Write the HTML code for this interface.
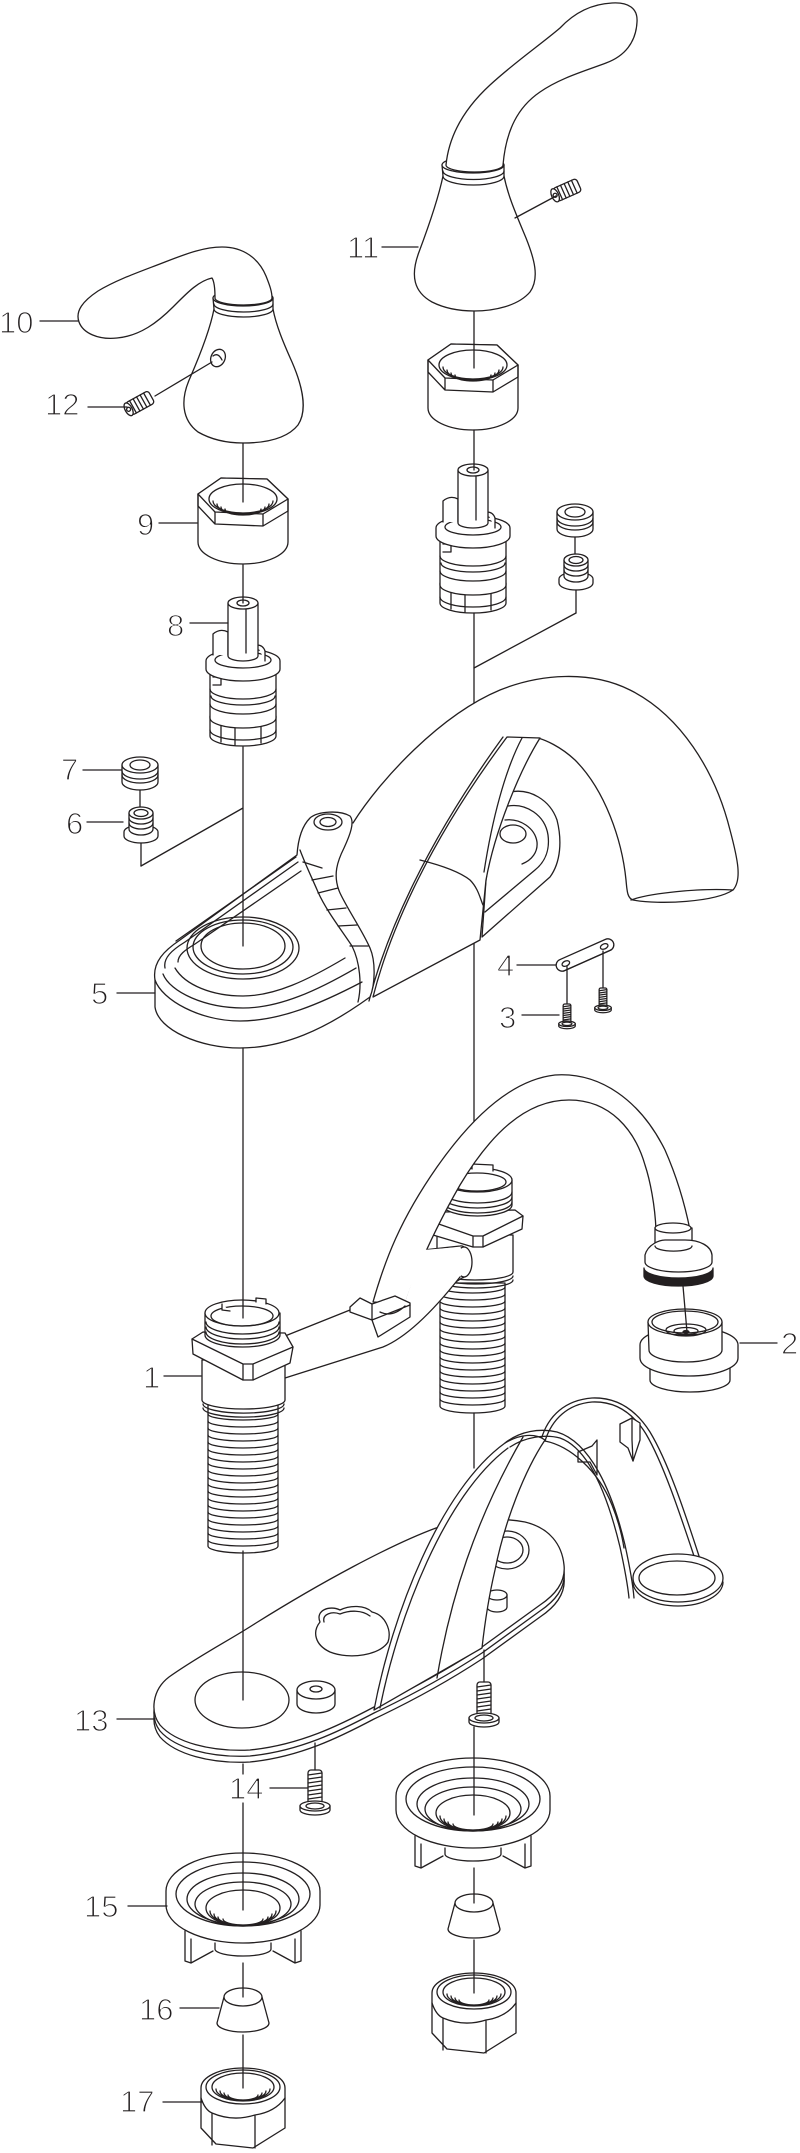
<!DOCTYPE html>
<html><head><meta charset="utf-8"><title>Faucet exploded view</title>
<style>
html,body{margin:0;padding:0;background:#fff;width:800px;height:2153px;overflow:hidden}
svg{display:block}
.t{font-family:"Liberation Sans",Arial,sans-serif;font-size:31px;fill:#231f20;stroke:#fff;stroke-width:1.2}
</style></head><body>
<svg width="800" height="2153" viewBox="0 0 800 2153" xmlns="http://www.w3.org/2000/svg">
<defs>
<g id="nut">
 <path fill="#fff" d="M-45,-8 L-45,40 A45,22 0 0 0 45,40 L45,-3 L24,-23 L-22,-24 Z"/>
 <path fill="#fff" d="M-45,-8 L-22,-24 L24,-23 L45,-3 L20,12 L-28,10 Z"/>
 <path d="M-45,-8 L-45,4 L-28,22 L20,24 L45,9 L45,-3 M-28,10 L-28,22 M20,12 L20,24"/>
 <ellipse cx="0" cy="-3" rx="34" ry="15"/>
 <path d="M-30,-1 A30,12 0 0 0 30,-1 M-26,2 A26,10 0 0 0 26,2 M-22,5 A22,8 0 0 0 22,5 M-18,7 A18,6 0 0 0 18,7"/>
</g>
<g id="cart">
 <path fill="#fff" d="M-33,113 L-33,133 A33,10 0 0 0 33,133 L33,113 Z"/>
 <path d="M-33,127 A33,10 0 0 0 33,127 M-22,121 L-22,139 M-8,123 L-8,142 M18,122 L18,140 M-26,118 L-14,118 L-10,124"/>
 <path fill="#fff" d="M-33,66 L-33,115 A33,10 0 0 0 33,115 L33,66 Z"/>
 <path d="M-33,86 A33,10 0 0 0 33,86 M-32,93 A32,9 0 0 0 32,93 M-33,101 A33,10 0 0 0 33,101 M-30,74 L-22,74 L-22,82 L-30,82"/>
 <path fill="#fff" d="M-37,58 L-37,66 A37,12 0 0 0 37,66 L37,58 A37,12 0 0 0 -37,58 Z"/>
 <ellipse cx="0" cy="57" rx="28" ry="8"/>
 <path fill="#fff" d="M-30,52 L-30,31 Q-23,25 -15,29 L-15,52"/>
 <path fill="#fff" d="M14,42 Q20,42 22,48 L22,58"/>
 <path fill="#fff" d="M-15,0 L-15,53 A15,5 0 0 0 15,53 L15,0 Z"/>
 <ellipse fill="#fff" cx="0" cy="0" rx="15" ry="6"/>
 <ellipse cx="0" cy="0" rx="6" ry="3"/>
 <path d="M3,6 L3,50"/>
</g>
<g id="seals">
 <path fill="#fff" d="M-18,0 L-18,17 A18,8 0 0 0 18,17 L18,0 Z"/>
 <ellipse fill="#fff" cx="0" cy="0" rx="18" ry="8"/>
 <ellipse cx="0" cy="0" rx="10" ry="5"/>
 <path d="M-18,6 A18,8 0 0 0 18,6 M-18,10 A18,8 0 0 0 18,10"/>
 <path d="M0,25 L0,42"/>
 <path fill="#fff" d="M-16,67 L-16,71 A17,7 0 0 0 18,71 L18,67 A17,7 0 0 0 -16,67 Z"/>
 <path fill="#fff" d="M-11,48 L-11,64 A12,6 0 0 0 13,64 L13,48 Z"/>
 <ellipse fill="#fff" cx="1" cy="48" rx="12" ry="6"/>
 <ellipse cx="1" cy="48" rx="7" ry="3.5"/>
 <path d="M-11,53 A12,6 0 0 0 13,53 M-11,58 A12,6 0 0 0 13,58"/>
 <path d="M1,78 L1,101"/>
</g>
<g id="mount">
 <path fill="#fff" stroke="none" d="M-58,40 L-58,70 L-52,72 L-30,60 L30,60 L52,72 L58,70 L58,40 Z"/>
 <path d="M-58,40 L-58,70 L-52,72 L-52,48 M-52,72 L-30,60 M58,40 L58,70 L52,72 L52,48 M52,72 L30,60"/>
 <path d="M-28,52 L-28,58 A28,7 0 0 0 28,58 L28,52"/>
 <path fill="#fff" d="M-77,0 L-77,14 A77,38 0 0 0 77,14 L77,0 A77,38 0 0 0 -77,0 Z"/>
 <ellipse cx="0" cy="3" rx="67" ry="32"/>
 <ellipse cx="0" cy="8" rx="56" ry="26"/>
 <ellipse cx="0" cy="13" rx="48" ry="22"/>
 <ellipse fill="#fff" cx="0" cy="17" rx="37" ry="18"/>
 <path d="M-33,20 A33,14 0 0 0 33,20 M-29,23 A29,11 0 0 0 29,23 M-25,26 A25,8 0 0 0 25,26 M-20,28 A20,6 0 0 0 20,28"/>
</g>
<g id="cone">
 <path fill="#fff" d="M-19,0 L-26,26 A26,9 0 0 0 26,26 L19,0 Z"/>
 <ellipse fill="#fff" cx="0" cy="0" rx="19" ry="9"/>
</g>
<g id="hex">
 <path fill="#fff" d="M-42,18 A42,20 0 0 1 42,18 L42,58 L10,78 L-27,74 L-42,58 Z"/>
 <ellipse cx="0" cy="17" rx="37" ry="17"/>
 <ellipse cx="0" cy="17" rx="31" ry="14"/>
 <path d="M-27,19 A27,11 0 0 0 27,19 M-23,21 A23,9 0 0 0 23,21 M-19,23 A19,7 0 0 0 19,23 M-15,25 A15,5 0 0 0 15,25"/>
 <path d="M-42,28 Q-38,40 -31,43 Q-10,52 12,45 Q32,42 42,28 M-31,43 L-31,75 M12,45 L12,78"/>
</g>
<g id="screw">
 <rect fill="#fff" x="-7" y="0" width="14" height="34" rx="3"/>
 <path d="M-7,5 L7,3 M-7,9 L7,7 M-7,13 L7,11 M-7,17 L7,15 M-7,21 L7,19 M-7,25 L7,23 M-7,29 L7,27"/>
 <path fill="#fff" d="M-15,36 L-15,40 A15,5 0 0 0 15,40 L15,36 Z"/>
 <ellipse fill="#fff" cx="0" cy="36" rx="15" ry="5"/>
 <ellipse cx="0" cy="36" rx="9" ry="3"/>
</g>
<g id="setscrew">
 <rect fill="#fff" x="-13" y="-7" width="26" height="14" rx="3"/>
 <ellipse fill="#fff" cx="-13" cy="0" rx="3.5" ry="7"/>
 <path d="M-8,-7 L-8,7 M-4,-7 L-4,7 M0,-7 L0,7 M4,-7 L4,7 M8,-7 L8,7"/>
 <circle cx="-13" cy="0" r="2"/>
</g>
</defs>

<g fill="none" stroke="#231f20" stroke-width="1.3" stroke-linejoin="round" stroke-linecap="round">

<!-- Handle 11 -->
<path fill="#fff" d="M443,176 C438,200 428,228 419,252 C410,276 414,292 432,302 C446,309 460,311 474,311 C494,311 518,306 530,292 C540,278 534,258 526,238 C516,214 508,196 504,176 Z"/>
<path fill="#fff" d="M442,165 L443,176 A30.5,9 0 0 0 504,176 L504,165 Z"/>
<ellipse fill="#fff" cx="473" cy="165" rx="31" ry="8"/>
<path d="M443,171 A30.5,8.5 0 0 0 504,171"/>
<path fill="#fff" d="M446,165 C449,135 465,108 490,85 C515,62 540,45 560,28 C575,12 592,4 612,3 C628,2 638,8 637,22 C636,42 625,56 606,63 C585,71 560,78 540,92 C518,107 506,130 503,165 A28.5,7 0 0 1 446,165 Z"/>
<use href="#setscrew" transform="translate(567,190) rotate(-24)"/>

<!-- Handle 10 -->
<path fill="#fff" d="M214,309 C210,330 200,355 190,378 C180,400 182,420 198,432 C212,440 228,443 243,443 C262,443 286,440 298,425 C308,410 302,385 292,362 C283,342 276,325 273,309 Z"/>
<path fill="#fff" d="M213,298 L214,309 A29.5,8 0 0 0 273,309 L273,298 Z"/>
<ellipse fill="#fff" cx="243" cy="298" rx="30" ry="8"/>
<path d="M214,304 A29.5,8 0 0 0 273,304"/>
<path fill="#fff" d="M215,298 C215,288 214,281 212,278 C198,281 186,294 173,307 C158,322 140,336 117,338 C98,340 83,333 79,322 C75,311 83,301 98,291 C118,279 142,271 165,262 C188,253 205,247 222,247 C244,247 259,259 266,276 C270,286 272,292 272,298 A28.5,7 0 0 1 215,298 Z"/>
<ellipse cx="218" cy="358" rx="7" ry="9" transform="rotate(25 218 358)"/>
<path d="M213,356 Q218,352 222,360"/>
<use href="#setscrew" transform="translate(140,403) rotate(-29)"/>

<!-- Nuts, cartridges, seals -->
<use href="#nut" transform="translate(473,368)"/>
<use href="#nut" transform="translate(243,502)"/>
<use href="#cart" transform="translate(473,470)"/>
<use href="#cart" transform="translate(243,603)"/>
<use href="#seals" transform="translate(575,512)"/>
<use href="#seals" transform="translate(140,765)"/>

<!-- line behind spout -->
<path d="M474,613 L474,703 M474,942 L474,1126"/>

<!-- Spout tube -->
<path fill="#fff" stroke="none" d="M353,823 C380,780 440,715 500,690 C540,674 590,670 630,690 C680,715 715,770 730,830 C738,860 742,880 733,890 C715,902 660,905 633,900 C627,898 627,890 626,880 C622,840 605,790 575,760 C560,746 545,740 538,738 L507,737 C470,785 440,825 420,860 L345,850 Z"/>
<path d="M353,823 C380,780 440,715 500,690 C540,674 590,670 630,690 C680,715 715,770 730,830 C738,860 742,880 733,890 C715,902 660,905 633,900 C627,898 627,890 626,880 C622,840 605,790 575,760 C560,746 545,740 538,738"/>
<path d="M631,900 C650,893 700,888 733,890"/>

<!-- right valve base seen under spout -->
<path fill="#fff" d="M510,792 C530,788 550,800 557,820 C562,840 561,862 550,877 L482,937 L486,880 C492,840 500,810 510,792 Z"/>
<path d="M508,806 C526,803 545,815 548,835 C550,850 545,862 535,870 L485,912"/>
<path d="M505,820 C520,818 535,828 537,842 C538,852 532,860 522,864"/>
<ellipse cx="513" cy="834" rx="13" ry="9"/>

<!-- Spout front face -->
<path fill="#fff" d="M373,997 C390,930 430,840 507,737 L540,738 C520,770 495,830 486,880 L480,940 Z"/>
<path d="M369,1001 C386,934 426,843 503,737"/>
<path d="M522,738 C505,770 492,820 484,872"/>
<path d="M420,860 C440,865 460,872 470,880 C478,888 480,898 483,905"/>

<!-- Base 5 -->
<path fill="#fff" d="M155,1007 L155,980 C152,962 165,950 180,940 L297,855 C298,840 302,826 310,818 C318,811 340,810 350,816 C355,822 350,835 344,848 C338,860 332,875 340,893 C348,910 362,930 370,948 C376,962 375,985 370,997 L360,1004 C325,1028 285,1048 240,1048 C200,1048 158,1030 155,1007 Z"/>
<path d="M155,980 C162,1000 200,1021 240,1021 C280,1021 320,1004 362,982"/>
<path d="M163,974 C170,992 205,1008 243,1008 C280,1008 318,990 356,968"/>
<path d="M175,968 C185,985 212,996 243,996 C275,996 308,980 345,958"/>
<path d="M165,968 C163,958 172,950 185,942 L298,862"/>
<path d="M178,962 C178,955 185,950 195,944 L301,871"/>
<path d="M176,941 L296,857"/>
<ellipse cx="243" cy="948" rx="56" ry="31"/>
<ellipse cx="243" cy="947" rx="50" ry="27"/>
<ellipse cx="243" cy="946" rx="42" ry="23"/>
<ellipse fill="#fff" cx="328" cy="822" rx="14" ry="8"/>
<ellipse cx="328" cy="822" rx="8" ry="4.5"/>
<path d="M300,850 C306,866 312,878 318,892 C326,910 340,928 352,946 C360,962 362,985 358,1002"/>
<path d="M303,862 L322,868 M312,880 L333,876 M318,893 L338,888 M327,910 L346,908 M338,926 L357,925 M350,946 L368,946"/>

<!-- Part 4 plate and screws 3 -->
<g transform="translate(585,955) rotate(-24)">
 <rect fill="#fff" x="-31" y="-6" width="62" height="12" rx="6"/>
 <path d="M-26,6 L26,6"/>
 <ellipse cx="-21" cy="0" rx="4" ry="2.5"/>
 <ellipse cx="21" cy="0" rx="4" ry="2.5"/>
</g>
<path d="M567,966 L567,1004 M603,951 L603,988"/>
<use href="#screw" transform="translate(567,1004) scale(0.55)" stroke-width="2.3"/>
<use href="#screw" transform="translate(603,988) scale(0.55)" stroke-width="2.3"/>

<!-- Right valve body -->
<path fill="#fff" d="M440,1283 L440,1406 A32.5,7 0 0 0 505,1406 L505,1283 Z"/>
<path d="M440,1287 A32.5,6 0 0 0 505,1287 M440,1294 A32.5,6 0 0 0 505,1294 M440,1301 A32.5,6 0 0 0 505,1301 M440,1308 A32.5,6 0 0 0 505,1308 M440,1315 A32.5,6 0 0 0 505,1315 M440,1322 A32.5,6 0 0 0 505,1322 M440,1329 A32.5,6 0 0 0 505,1329 M440,1336 A32.5,6 0 0 0 505,1336 M440,1343 A32.5,6 0 0 0 505,1343 M440,1350 A32.5,6 0 0 0 505,1350 M440,1357 A32.5,6 0 0 0 505,1357 M440,1364 A32.5,6 0 0 0 505,1364 M440,1371 A32.5,6 0 0 0 505,1371 M440,1378 A32.5,6 0 0 0 505,1378 M440,1385 A32.5,6 0 0 0 505,1385 M440,1392 A32.5,6 0 0 0 505,1392 M440,1399 A32.5,6 0 0 0 505,1399"/>
<path d="M438,1276 A37.5,8 0 0 0 513,1276 M438,1280 A37.5,8 0 0 0 513,1280"/>
<path fill="#fff" d="M437,1235 L437,1272 A38,8 0 0 0 513,1272 L513,1235 Z"/>
<path fill="#fff" d="M433,1222 L445,1212 L515,1210 L523,1216 L522,1229 L483,1247 L473,1247 L433,1235 Z"/>
<path d="M433,1222 L473,1236 L483,1236 L523,1216 M473,1236 L473,1247 M483,1236 L483,1247"/>
<path fill="#fff" d="M443,1180 L443,1205 A34.5,11 0 0 0 512,1205 L512,1180 Z"/>
<ellipse fill="#fff" cx="477" cy="1180" rx="35" ry="12"/>
<ellipse cx="477" cy="1182" rx="29" ry="9"/>
<path d="M443,1192 A34.5,11 0 0 0 512,1192 M443,1197 A34.5,11 0 0 0 512,1197 M443,1202 A34.5,11 0 0 0 512,1202"/>
<path fill="#fff" d="M472,1169 L472,1164 L493,1165 L493,1171"/>
<path fill="#fff" d="M423,1250 L460,1246 A9,16 0 0 1 462,1278 L440,1292 Z"/>
<ellipse fill="#fff" cx="464" cy="1262" rx="8" ry="15"/>

<!-- Hose -->
<path fill="#fff" d="M373,1302 C385,1260 400,1220 437,1167 C470,1120 510,1080 555,1075 C600,1072 640,1100 665,1150 C676,1175 684,1200 690,1230 L656,1230 C655,1205 650,1180 645,1165 C635,1130 610,1100 569,1100 C525,1100 490,1135 460,1185 C440,1220 420,1260 405,1304 Z"/>

<!-- Arm of part 1 -->
<path fill="#fff" stroke="none" d="M285,1336 L352,1310 L405,1302 L423,1250 L460,1247 L470,1262 L460,1277 C440,1305 415,1330 383,1347 L285,1378 Z"/>
<path d="M285,1336 L350,1310 M285,1378 L383,1347 C405,1338 430,1315 460,1277"/>
<path fill="#fff" d="M350,1307 L360,1298 L372,1304 L395,1296 L410,1303 L410,1317 L378,1337 L372,1320 L350,1312 Z"/>
<path d="M372,1304 L372,1320 M372,1320 L410,1305 M380,1312 Q392,1318 405,1306"/>

<!-- Left body 1 -->
<path fill="#fff" d="M208,1405 L208,1546 A35,7 0 0 0 278,1546 L278,1405 Z"/>
<path d="M208,1414 A35,6 0 0 0 278,1414 M208,1421 A35,6 0 0 0 278,1421 M208,1428 A35,6 0 0 0 278,1428 M208,1435 A35,6 0 0 0 278,1435 M208,1442 A35,6 0 0 0 278,1442 M208,1449 A35,6 0 0 0 278,1449 M208,1456 A35,6 0 0 0 278,1456 M208,1463 A35,6 0 0 0 278,1463 M208,1470 A35,6 0 0 0 278,1470 M208,1477 A35,6 0 0 0 278,1477 M208,1484 A35,6 0 0 0 278,1484 M208,1491 A35,6 0 0 0 278,1491 M208,1498 A35,6 0 0 0 278,1498 M208,1505 A35,6 0 0 0 278,1505 M208,1512 A35,6 0 0 0 278,1512 M208,1519 A35,6 0 0 0 278,1519 M208,1526 A35,6 0 0 0 278,1526 M208,1533 A35,6 0 0 0 278,1533 M208,1540 A35,6 0 0 0 278,1540"/>
<path d="M203,1404 A40,9 0 0 0 284,1404 M203,1408 A40,9 0 0 0 284,1408"/>
<path fill="#fff" d="M202,1360 L202,1400 A41.5,9 0 0 0 285,1400 L285,1360 Z"/>
<path fill="#fff" d="M192,1339 L203,1332 L285,1333 L293,1347 L290,1363 L253,1380 L243,1380 L193,1354 Z"/>
<path d="M192,1339 L243,1364 L253,1364 L293,1347 M243,1364 L243,1380 M253,1364 L253,1380"/>
<path fill="#fff" d="M205,1313 L205,1335 A37.5,12 0 0 0 280,1335 L280,1313 Z"/>
<ellipse fill="#fff" cx="242" cy="1313" rx="37" ry="13"/>
<ellipse cx="242" cy="1316" rx="31" ry="10"/>
<path d="M206,1322 A36.5,12 0 0 0 279,1322 M206,1327 A36.5,12 0 0 0 279,1327 M206,1332 A36.5,12 0 0 0 279,1332"/>
<path fill="#fff" d="M256,1302 L256,1298 L266,1299 L266,1304"/>
<path fill="#fff" d="M222,1304 L222,1310 L230,1311"/>

<!-- Hose end fitting -->
<path fill="#fff" d="M655,1228 L655,1250 L692,1250 L692,1228 Z"/>
<ellipse fill="#fff" cx="673" cy="1228" rx="18" ry="5"/>
<path fill="#fff" d="M645,1255 C648,1244 660,1240 665,1240 L685,1240 C700,1240 711,1246 712,1255 L712,1262 A33.5,10 0 0 1 645,1262 Z"/>
<path d="M655,1246 A18,5 0 0 0 692,1246"/>
<path fill="#231f20" d="M644,1268 L644,1276 A34.5,10 0 0 0 713,1276 L713,1268 A34.5,10 0 0 1 644,1268 Z"/>

<!-- Part 2 -->
<path fill="#fff" d="M650,1358 L650,1380 A40,12 0 0 0 730,1380 L730,1358 Z"/>
<path fill="#fff" d="M640,1345 L640,1358 A49,18 0 0 0 738,1358 L738,1345 A49,18 0 0 0 640,1345 Z"/>
<path fill="#fff" d="M648,1322 L649,1350 A36.5,12 0 0 0 722,1350 L722,1322 Z"/>
<ellipse fill="#fff" cx="685" cy="1322" rx="37" ry="13"/>
<ellipse cx="685" cy="1322" rx="33" ry="11"/>
<ellipse cx="686" cy="1330" rx="20" ry="6"/>
<ellipse cx="686" cy="1331" rx="12" ry="3.5"/>
<ellipse fill="#231f20" cx="686" cy="1332" rx="3" ry="1.5"/>

<!-- Plate 13 -->
<path fill="#fff" transform="translate(0,12)" d="M169,1677 C200,1655 230,1640 256,1623 C320,1583 390,1545 436,1528 C470,1518 505,1518 525,1522 C550,1528 562,1545 564,1565 C566,1582 555,1595 540,1605 L482,1647 C450,1668 410,1690 374,1707 C340,1725 300,1745 250,1750 C210,1752 175,1742 160,1725 C150,1712 152,1690 169,1677 Z"/>
<path fill="#fff" transform="translate(0,6)" d="M169,1677 C200,1655 230,1640 256,1623 C320,1583 390,1545 436,1528 C470,1518 505,1518 525,1522 C550,1528 562,1545 564,1565 C566,1582 555,1595 540,1605 L482,1647 C450,1668 410,1690 374,1707 C340,1725 300,1745 250,1750 C210,1752 175,1742 160,1725 C150,1712 152,1690 169,1677 Z"/>
<path fill="#fff" d="M169,1677 C200,1655 230,1640 256,1623 C320,1583 390,1545 436,1528 C470,1518 505,1518 525,1522 C550,1528 562,1545 564,1565 C566,1582 555,1595 540,1605 L482,1647 C450,1668 410,1690 374,1707 C340,1725 300,1745 250,1750 C210,1752 175,1742 160,1725 C150,1712 152,1690 169,1677 Z"/>
<ellipse cx="242" cy="1700" rx="47" ry="28"/>
<path fill="#fff" d="M297,1690 L297,1704 A19,9 0 0 0 335,1704 L335,1690 Z"/>
<ellipse fill="#fff" cx="316" cy="1690" rx="19" ry="9"/>
<ellipse cx="316" cy="1689" rx="6" ry="3"/>
<path d="M320,1622 C315,1610 330,1605 340,1610 C350,1605 365,1605 372,1612 C385,1615 392,1630 388,1642 C380,1655 350,1660 330,1652 C315,1645 312,1632 320,1622 Z"/>
<path d="M324,1622 C322,1614 332,1611 340,1614 C350,1610 362,1610 370,1616"/>
<ellipse cx="507" cy="1550" rx="22" ry="19"/>
<ellipse cx="507" cy="1550" rx="16" ry="13"/>
<path fill="#fff" d="M487,1595 L487,1607 A10,5 0 0 0 507,1607 L507,1595 Z"/>
<ellipse fill="#fff" cx="497" cy="1595" rx="10" ry="5"/>

<!-- Wire and clips -->
<path d="M541,1440 C548,1415 566,1400 592,1398 C617,1397 636,1410 650,1432 C668,1462 684,1510 699,1556"/>
<path d="M545,1441 C552,1419 568,1404 592,1402 C615,1401 633,1413 646,1434 C663,1463 679,1511 694,1556"/>
<path fill="#fff" d="M620,1424 L632,1418 L640,1423 L640,1440 L633,1461 L628,1448 L620,1442 Z"/>
<path d="M632,1418 L632,1440 L633,1461"/>
<path fill="#fff" d="M578,1452 L592,1446 L597,1440 L597,1475 L590,1462 L578,1462 Z"/>

<!-- Cover -->
<path fill="#fff" d="M374,1710 C392,1615 440,1490 505,1443 C520,1434 535,1433 545,1440 C525,1470 505,1520 495,1570 C488,1600 484,1630 482,1648 L374,1710 Z"/>
<path d="M380,1708 C398,1617 445,1495 508,1448"/>
<path d="M437,1678 C450,1600 475,1520 523,1437"/>
<path d="M505,1443 C520,1431 540,1428 557,1432 C590,1442 612,1490 625,1545 C630,1568 633,1585 634,1598"/>
<path d="M510,1447 C525,1437 545,1434 560,1438 C588,1448 607,1493 620,1547 C625,1570 628,1588 629,1598"/>
<path d="M545,1441 C570,1446 598,1470 612,1505 C618,1520 622,1535 624,1548"/>

<!-- Loop ring -->
<path d="M633,1582 A45,24 0 0 0 723,1582"/>
<ellipse fill="#fff" cx="678" cy="1578" rx="45" ry="24"/>
<ellipse cx="677" cy="1578" rx="38" ry="17"/>

<!-- screws under plate -->
<use href="#screw" transform="translate(315,1770)"/>
<use href="#screw" transform="translate(484,1682)"/>

<!-- Mounts, cones, nuts -->
<use href="#mount" transform="translate(473,1796)"/>
<use href="#mount" transform="translate(243,1891)"/>
<use href="#cone" transform="translate(474,1903)"/>
<use href="#cone" transform="translate(243,1997)"/>
<use href="#hex" transform="translate(474,1975)"/>
<use href="#hex" transform="translate(243,2070)"/>

<!-- connector lines -->
<path d="M474,311 L474,368 M474,430 L474,470 M576,613 L474,668"/>
<path d="M243,443 L243,502 M243,565 L243,603 M243,747 L243,946 M141,866 L243,808"/>
<path d="M243,1048 L243,1318 M243,1551 L243,1700 M243,1764 L243,1774 M243,1803 L243,1910 M243,1963 L243,1997 M243,2035 L243,2088"/>
<path d="M474,1413 L474,1468 M484,1650 L484,1682 M474,1727 L474,1815 M474,1868 L474,1903 M474,1940 L474,1993 M315,1743 L315,1770"/>
<path d="M683,1286 L687,1332"/>
<path d="M155,396 L212,362 M556,196 L515,218"/>

<!-- leaders -->
<path d="M382,247 L418,247 M40,321 L78,321 M88,407 L127,407 M159,523 L197,523 M190,623 L228,623 M83,770 L122,770 M87,822 L123,822 M117,993 L155,993 M517,965 L556,965 M522,1015 L559,1015 M164,1376 L201,1376 M740,1343 L777,1343 M117,1719 L155,1719 M270,1788 L307,1788 M128,1906 L167,1906 M180,2008 L219,2008 M163,2102 L202,2102"/>
</g>

<!-- labels -->
<text class="t" x="347" y="258">11</text>
<text class="t" x="-1" y="333">10</text>
<text class="t" x="45" y="415">12</text>
<text class="t" x="137" y="535">9</text>
<text class="t" x="167" y="636">8</text>
<text class="t" x="61" y="780">7</text>
<text class="t" x="66" y="834">6</text>
<text class="t" x="91" y="1004">5</text>
<text class="t" x="497" y="976">4</text>
<text class="t" x="499" y="1028">3</text>
<text class="t" x="143" y="1388">1</text>
<text class="t" x="781" y="1354">2</text>
<text class="t" x="74" y="1731">13</text>
<text class="t" x="229" y="1799">14</text>
<text class="t" x="84" y="1917">15</text>
<text class="t" x="139" y="2020">16</text>
<text class="t" x="120" y="2112">17</text>
</svg>
</body></html>
